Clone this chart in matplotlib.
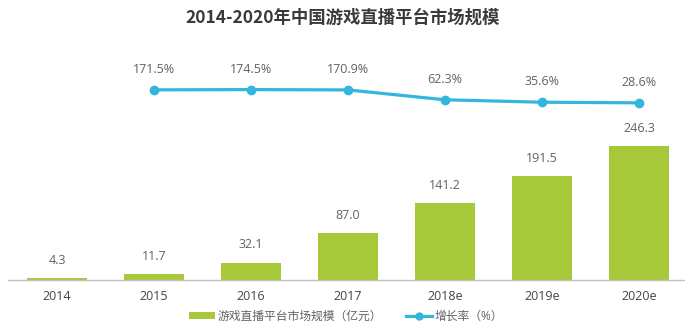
import matplotlib
matplotlib.use("Agg")
import matplotlib.pyplot as plt
from matplotlib.patches import Patch
from matplotlib.lines import Line2D

plt.rcParams['font.family'] = ['Open Sans', 'Noto Sans CJK SC', 'DejaVu Sans']

years = ['2014', '2015', '2016', '2017', '2018e', '2019e', '2020e']
market = [4.3, 11.7, 32.1, 87.0, 141.2, 191.5, 246.3]
growth_years = ['2015', '2016', '2017', '2018e', '2019e', '2020e']
growth = [171.5, 174.5, 170.9, 62.3, 35.6, 28.6]

title = '2014-2020年中国游戏直播平台市场规模'
bar_label = '游戏直播平台市场规模（亿元）'
line_label = '增长率（%）'

bar_color = '#a7c838'
line_color = '#33b6de'
text_color = '#626262'

W, H = 685, 327
fig = plt.figure(figsize=(W / 100, H / 100), dpi=100)
ax_left, ax_right = 8, 685
ax_bottom_px, ax_top_px = 280, 60
ax = fig.add_axes([ax_left / W, 1 - ax_bottom_px / H,
                   (ax_right - ax_left) / W, (ax_bottom_px - ax_top_px) / H])

x = list(range(len(years)))
bars = ax.bar(x, market, width=0.62, color=bar_color, zorder=2)
ax.set_ylim(0, 404)
ax.set_xlim(-0.505, 6.474)
for xi, v in zip(x, market):
    ax.annotate(f'{v:.1f}', (xi, v), xytext=(0, 8), textcoords='offset points',
                ha='center', va='bottom', fontsize=9, color=text_color)

ax.set_xticks(x)
ax.set_xticklabels(years, fontsize=9, color='#444444')
ax.tick_params(axis='x', length=0, pad=7)
ax.set_yticks([])
for s in ['top', 'left', 'right']:
    ax.spines[s].set_visible(False)
ax.spines['bottom'].set_color('#bfbfbf')
ax.spines['bottom'].set_linewidth(1.0)

ax2 = ax.twinx()
gx = [years.index(g) for g in growth_years]
ax2.plot(gx, growth, color=line_color, lw=2.3, marker='o', markersize=6,
         markerfacecolor=line_color, markeredgecolor=line_color, zorder=3)
ax2.set_ylim(-1920, 500)
for xi, v in zip(gx, growth):
    ax2.annotate(f'{v:.1f}%', (xi, v), xytext=(0, 10), textcoords='offset points',
                 ha='center', va='bottom', fontsize=9, color=text_color)
ax2.set_yticks([])
for s in ['top', 'left', 'right', 'bottom']:
    ax2.spines[s].set_visible(False)

fig.text(0.5, 1 - 18 / H, title, ha='center', va='center', fontsize=12.5,
         fontweight='bold', color='#3a3a3a',
         family=['Noto Sans CJK SC', 'DejaVu Sans'])

handles = [Patch(facecolor=bar_color, edgecolor='none'),
           Line2D([0], [0], color=line_color, lw=2.3, marker='o', markersize=5)]
fig.legend(handles, [bar_label, line_label], loc='center',
           bbox_to_anchor=(346 / W, 1 - 316 / H), ncol=2, frameon=False,
           fontsize=8.5, handlelength=2.2, handleheight=0.55, handletextpad=0.2,
           columnspacing=2.0, labelcolor=text_color)

fig.savefig('out.png', dpi=100, facecolor='white')
